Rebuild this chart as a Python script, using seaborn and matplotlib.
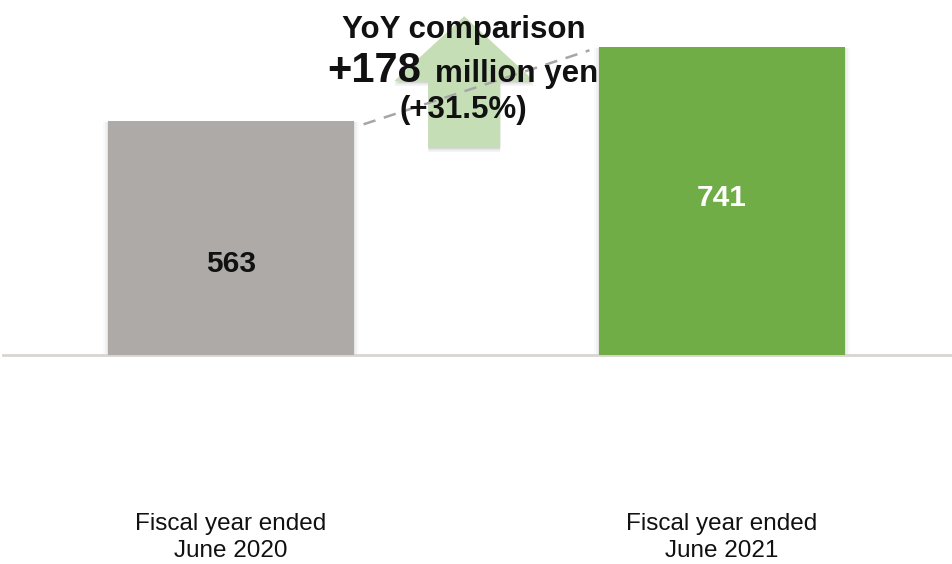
import matplotlib
matplotlib.use("Agg")
import matplotlib.pyplot as plt
from matplotlib.patches import Polygon
import pandas as pd
import seaborn as sns

# Operating figures (million yen)
periods = ["Fiscal year ended\nJune 2020", "Fiscal year ended\nJune 2021"]
values = [563, 741]
bar_colors = ["#aeaaa8", "#70ad47"]
label_colors = ["#111111", "#ffffff"]
yoy_diff = 178
yoy_pct = 31.5

sns.set_theme(style="white")
plt.rcParams["font.family"] = ["Liberation Sans", "DejaVu Sans"]

df = pd.DataFrame({"period": periods, "value": values})

W, H = 953, 564
fig = plt.figure(figsize=(W / 100, H / 100), dpi=100)
ax = fig.add_axes([3 / W, (H - 355) / H, (W - 3) / W, 355 / H])

sns.barplot(data=df, x="period", y="value", hue="period", palette=bar_colors,
            width=0.5, saturation=1, legend=False, ax=ax, zorder=3)

# soft shadow around the bars
for patch in list(ax.patches):
    patch.set_edgecolor("none")
    x0, w, h = patch.get_x(), patch.get_width(), patch.get_height()
    for k, a in [(0.010, 0.02), (0.006, 0.035), (0.003, 0.05)]:
        ax.add_patch(plt.Rectangle((x0 - k, 0), w + 2 * k, h - 2,
                                   facecolor="#000000", alpha=a, lw=0, zorder=2))

ax.set_xlim(-0.4644, 1.4705)
ax.set_ylim(0, 854)

# value labels inside bars
label_pos = [0.39, 0.51]
for i, (v, c) in enumerate(zip(values, label_colors)):
    ax.text(i, v * label_pos[i], f"{v}", ha="center", va="center",
            fontsize=21.5, fontweight="bold", color=c, zorder=5)

# dashed connector between bar tops
ax.plot([0.27, 0.73], [values[0] - 8, values[1] - 8], ls=(0, (5, 3.5)),
        color="#a6a6a6", lw=1.8, zorder=4)

# upward arrow with a soft shadow
cx = 0.475
shaft_hw, head_hw = 0.0733, 0.1426
y_bot, y_neck, y_tip = 500, 659, 815
arrow_pts = [(cx - shaft_hw, y_bot), (cx - shaft_hw, y_neck), (cx - head_hw, y_neck),
             (cx, y_tip), (cx + head_hw, y_neck), (cx + shaft_hw, y_neck),
             (cx + shaft_hw, y_bot)]
for dy, a in [(-12, 0.04), (-8, 0.06), (-4, 0.08)]:
    ax.add_patch(Polygon([(x, y + dy) for x, y in arrow_pts], closed=True,
                         facecolor="#000000", alpha=a, lw=0, zorder=3))
ax.add_patch(Polygon(arrow_pts, closed=True, facecolor="#c5deb5", lw=0, zorder=3.5))

# year-over-year annotation
def fy(py):
    return 1 - py / H

fig.text(464 / W, fy(38), "YoY comparison", ha="center", va="baseline",
         fontsize=22.5, fontweight="bold", color="#111111", zorder=6)
fig.text(327 / W, fy(82), f"+{yoy_diff}", ha="left", va="baseline",
         fontsize=30, fontweight="bold", color="#111111", zorder=6)
fig.text(598 / W, fy(82), "million yen", ha="right", va="baseline",
         fontsize=22.5, fontweight="bold", color="#111111", zorder=6)
fig.text(463 / W, fy(118), f"(+{yoy_pct:.1f}%)", ha="center", va="baseline",
         fontsize=22.5, fontweight="bold", color="#111111", zorder=6)

# axes styling
for side in ["top", "right", "left"]:
    ax.spines[side].set_visible(False)
ax.spines["bottom"].set_color("#d9d4cf")
ax.spines["bottom"].set_linewidth(2)
ax.set_yticks([])
ax.set_xlabel("")
ax.set_ylabel("")
ax.tick_params(axis="x", length=0, pad=114, labelsize=17.5, labelcolor="#111111")
for lbl in ax.get_xticklabels():
    lbl.set_linespacing(1.3)
ax.set_facecolor("white")
fig.patch.set_facecolor("white")

fig.savefig("out.png", dpi=100)
